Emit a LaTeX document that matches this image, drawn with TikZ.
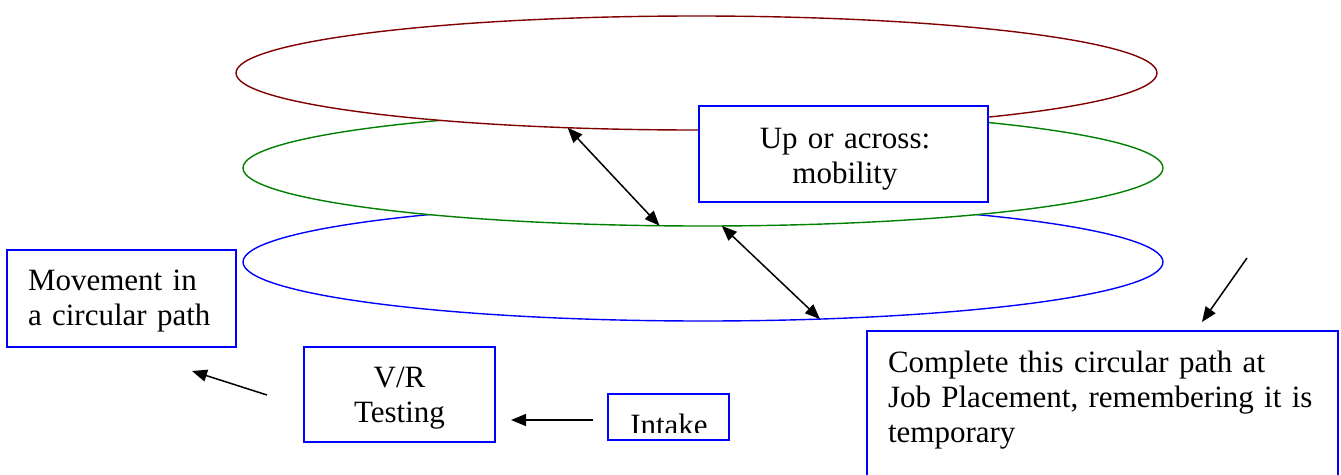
\documentclass[tikz,border=0pt]{standalone}
\usepackage{fontspec}
\setmainfont{Liberation Serif}
\usetikzlibrary{arrows.meta,shapes.geometric}
\definecolor{ringred}{RGB}{128,0,0}
\definecolor{ringgreen}{RGB}{0,128,0}
\definecolor{ringblue}{RGB}{0,0,255}
\begin{document}
\begin{tikzpicture}[x=1pt,y=-1pt,
  ring/.style={ellipse, draw, fill=white, line width=1.4pt, inner sep=0pt, outer sep=0pt},
  bx/.style={draw=ringblue, line width=1.8pt, fill=white, inner sep=0pt, outer sep=0pt, anchor=north west},
  txt/.style={font=\fontsize{31}{35}\selectfont, inner sep=0pt, outer sep=0pt},
  arr/.style={-{Triangle[length=15pt,width=12pt]}, line width=1.5pt},
  darr/.style={{Triangle[length=15pt,width=12pt]}-{Triangle[length=15pt,width=12pt]}, line width=1.5pt}]
\useasboundingbox (0,0) rectangle (1341,474);
% rings
\node[ring, draw=ringblue, minimum width=920, minimum height=118] (blue) at (703,262) {};
\node[ring, draw=ringgreen, minimum width=920, minimum height=116] (green) at (703,168) {};
\node[ring, draw=ringred, minimum width=921, minimum height=114] (red) at (696.5,73) {};
% boxes
\node[bx, minimum width=289, minimum height=96] (up) at (699,106) {};
\node[txt, anchor=base, text width=289, align=center] (uptext) at (845,148) {Up or across:\\mobility};
\node[bx, minimum width=229, minimum height=97] (move) at (7,250) {};
\node[txt, anchor=base west, text width=200, align=left] (movetext) at (28,290) {Movement in\\a circular path};
\node[bx, minimum width=191, minimum height=95] (vr) at (304,347) {};
\node[txt, anchor=base, text width=191, align=center] (vrtext) at (399.5,387) {V/R\\Testing};
\node[bx, minimum width=121, minimum height=46] (intake) at (608,394) {};
\begin{scope}
  \clip (609,395) rectangle (728,432);
  \node[txt, anchor=base] (intaketext) at (669,435) {Intake};
\end{scope}
\node[bx, minimum width=471, minimum height=200] (done) at (867,331) {};
\node[txt, anchor=base west, text width=440, align=left] (donetext) at (888,372) {Complete this circular path at\\Job Placement, remembering it is\\temporary};
% arrows
\draw[darr] (red.203.8) -- (green.233);
\draw[darr] (green.288.7) -- (blue.334.7);
\coordinate (a3s) at (1247,258);
\coordinate (a3e) at (1202,322);
\draw[arr] (a3s) -- (a3e);
\coordinate (a4s) at (267,395);
\coordinate (a4e) at (192,371);
\draw[arr] (a4s) -- (a4e);
\draw[arr, shorten <=15pt, shorten >=16pt] ([yshift=-3pt]intake.west) -- ([yshift=-3pt]intake.west -| vr.east);
\end{tikzpicture}
\end{document}
